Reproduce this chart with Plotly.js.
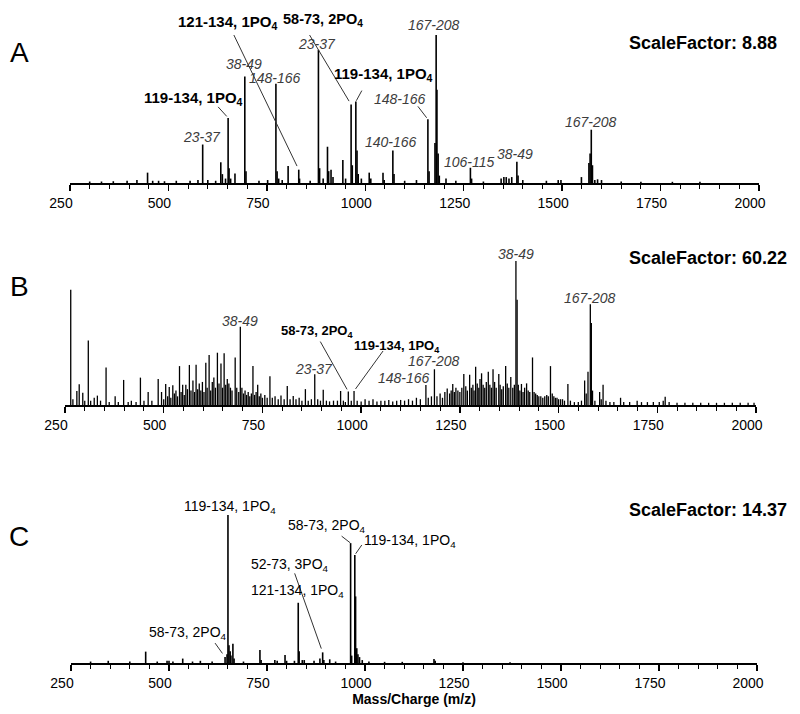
<!DOCTYPE html>
<html>
<head>
<meta charset="utf-8">
<script src="https://cdn.plot.ly/plotly-3.0.1.min.js"></script>
<style>body{margin:0;background:#fff}</style>
</head>
<body>
<div id="graph" style="width:800px;height:714px"></div>
<script>
// peak lists (m/z, relative intensity, tallest = 100)
var mzA = [300, 330, 360, 395, 420, 447, 460, 475, 490, 520, 555, 575, 587, 600, 620, 633, 637, 645, 651.6, 654, 658, 669,
  694, 697, 730, 752, 773, 776, 780, 789, 804, 831, 833, 860, 881, 884, 893, 904, 907, 913, 918, 943, 950, 964, 967,
  976, 979, 982, 990, 1010, 1014, 1045, 1048, 1070, 1073, 1100, 1130, 1159, 1162, 1177, 1180, 1182, 1185, 1188, 1205,
  1230, 1267, 1270, 1300, 1345, 1352, 1358, 1365, 1372, 1385, 1388, 1400, 1460, 1490, 1497, 1549, 1568, 1571, 1574,
  1577, 1583, 1590, 1600, 1650, 1700, 1780, 1850];
var intA = [1, 1, 1.2, 1.5, 2, 7, 1.5, 1.5, 1.2, 1.5, 1.5, 2, 26, 2, 1.5, 14, 6, 3, 44, 10, 3, 6.5,
  72, 8, 1.5, 2, 67, 8, 3, 2, 11.5, 9, 3, 1.5, 90, 10, 3, 24.5, 8, 9, 4, 15.5, 3, 53, 12,
  55, 22, 6, 3, 7, 3, 7, 2, 22, 6, 1.5, 2, 43, 8, 27, 100, 63, 20, 5, 3,
  1.5, 10.3, 3, 1, 3, 4, 4, 3, 4, 14.4, 5, 2, 1.5, 2, 2, 4, 13.5, 20, 36,
  12, 2, 2.5, 2, 1, 0.8, 0.8, 0.8];

var mzB = [264.5, 270, 280, 286, 295, 300, 309, 315, 324, 332, 340, 354, 362, 377, 385, 398.5, 410, 418, 430, 441, 450,
  460.6, 470, 486, 494.5, 500, 505, 510, 514, 518, 523, 527, 531, 535, 540, 544, 548, 552, 556, 560, 565, 569, 574,
  578, 582, 586, 590, 594, 598, 602, 606.6, 610, 615, 619, 623, 627, 631, 636, 640, 645, 649, 653, 657, 661, 665,
  669, 673, 681, 685, 690, 694, 698, 702, 706, 710, 714, 718, 722, 726, 730, 734, 738, 742, 746, 750, 756, 762,
  769, 775, 782, 790, 797, 805, 812.9, 820, 828, 835, 843, 850, 858.8, 866, 874, 882.5, 890, 897, 904, 912, 920,
  930, 940, 948, 955, 960, 967.5, 975, 982, 990, 1000, 1010, 1020, 1030, 1040, 1050, 1060, 1070, 1080, 1090, 1100,
  1110, 1120, 1130, 1140, 1150, 1164, 1170, 1178, 1185.6, 1192, 1200, 1206, 1212, 1218, 1224, 1228, 1232, 1236,
  1240, 1245, 1250, 1255, 1260, 1265, 1269, 1274.8, 1279, 1283, 1286, 1290, 1294, 1298, 1301, 1305, 1309, 1313,
  1317, 1322, 1326, 1330, 1334, 1338, 1342, 1348.6, 1352, 1356, 1360, 1366, 1370, 1374, 1379, 1384, 1388, 1392,
  1395, 1398, 1402, 1406, 1410, 1414, 1419, 1423, 1427, 1434, 1438, 1442, 1446, 1450, 1455, 1460, 1465, 1470,
  1474, 1479.5, 1484, 1488, 1492, 1496, 1500, 1505, 1510, 1515, 1523.6, 1530, 1540, 1550, 1558, 1566, 1570,
  1574.5, 1580.4, 1583, 1586, 1592, 1604, 1608, 1612.7, 1620, 1630, 1640, 1657, 1665, 1680, 1699, 1710, 1725,
  1740, 1755, 1765, 1770, 1780, 1800, 1820, 1840, 1860, 1880, 1900, 1920, 1940, 1960, 1980, 1995];
var intB = [80, 4, 9.7, 14.4, 8.5, 3, 44.7, 3, 5, 6.5, 3, 26, 2, 6, 2, 17.4, 2, 3, 2, 19, 3,
  9, 3, 18, 9, 4, 14.6, 6, 12.5, 5, 13.7, 8, 10, 6, 27, 9, 14, 7, 14, 11, 27.8, 10, 17,
  9, 28, 11, 15, 10, 16, 9, 29.4, 12, 34.7, 10, 16, 19, 12, 36.3, 15, 28.8, 12, 36, 14, 18, 15,
  12, 10, 33, 12, 9, 54.4, 12, 8, 10, 7, 9, 6, 8, 27, 7, 9, 14, 6, 8, 5, 7, 5,
  20, 5, 6, 4, 6.5, 4, 13.2, 4, 6.3, 4, 5, 3, 11, 3, 4, 21.3, 4, 3, 10.6, 3, 2.5,
  3, 3, 9.7, 3, 2, 9.3, 3, 9.7, 3, 2.5, 4, 3, 4, 2.5, 3, 3, 3.5, 2.5, 3, 3.5,
  3, 4, 3, 5, 4, 13.9, 5, 6, 24.8, 6, 8, 5, 9, 11.5, 8, 10, 14.6, 9,
  12, 10, 9, 12, 21.5, 13, 10, 21, 12, 14, 10, 26.6, 15, 12, 18, 22, 14, 12,
  16, 23, 14, 12, 24.8, 16, 12, 21.5, 14, 11, 13, 27, 15, 12, 19.5, 12, 14, 100,
  73, 14, 10, 14.6, 9, 12, 15, 10, 9, 33, 9, 8, 7, 6, 6, 5, 6, 7,
  6, 27, 8, 6, 5, 5, 4, 4, 4, 3, 14.6, 3, 2, 2, 3, 17, 8,
  23, 70, 57, 10, 3, 9, 4, 14, 3, 2, 2, 5, 2, 2, 3, 2, 2,
  2, 2, 3, 5.8, 2, 1.5, 1.5, 1.5, 1.5, 1.5, 1.5, 1.5, 1.5, 1.5, 1.5, 1.5];

var mzC = [300, 345, 400, 440.5, 470, 495, 500, 510, 535, 560, 580, 610, 643, 648, 650.4, 653, 656, 658, 663, 666, 690,
  732, 735, 770, 776, 796, 800, 820, 829.7, 832, 840, 845, 870, 885, 892, 895, 910, 925, 963.3, 966, 974, 976, 979,
  982, 986, 993, 1010, 1050, 1095, 1176, 1179, 1250, 1370];
var intC = [1, 1.5, 1, 7.7, 1, 1.5, 1.5, 1, 3, 1, 1.5, 1, 4, 6, 100, 12, 8, 5, 13, 3, 1,
  8.8, 2, 2, 1.5, 5.4, 1.5, 1.5, 40.7, 8, 2, 2, 1.5, 3, 7.2, 2, 2.5, 1, 81, 5, 73, 45, 10,
  6, 4, 2, 1, 0.8, 0.8, 2.7, 1.5, 0.6, 0.6];

var tickVals = [250, 500, 750, 1000, 1250, 1500, 1750, 2000];
var panelNames = ['A', 'B', 'C'];
var scaleFactors = ['8.88', '60.22', '14.37'];

var font = 'Arial, "Liberation Sans", sans-serif';

function sticks(mz, inten, xa, ya, w) {
  var x = [], y = [];
  for (var i = 0; i < mz.length; i++) {
    x.push(mz[i], mz[i], null);
    y.push(0, inten[i], null);
  }
  return {x: x, y: y, xaxis: xa, yaxis: ya, type: 'scatter', mode: 'lines',
    line: {color: '#000', width: w}, hoverinfo: 'skip', showlegend: false};
}

function heightAt(mz, inten, m) {
  var best = 0;
  for (var i = 0; i < mz.length; i++) {
    if (Math.abs(mz[i] - m) < Math.abs(mz[best] - m)) best = i;
  }
  return inten[best];
}

var data = [
  sticks(mzA, intA, 'x', 'y', 1.6),
  sticks(mzB, intB, 'x2', 'y2', 1.3),
  sticks(mzC, intC, 'x3', 'y3', 1.6)
];

function xAxis(domain, anchor) {
  return {domain: domain, anchor: anchor, range: [250, 2000], tickmode: 'array', tickvals: tickVals,
    ticks: 'outside', ticklen: 6, tickwidth: 1.5, tickcolor: '#000',
    showline: true, linewidth: 2, linecolor: '#000', showgrid: false, zeroline: false,
    ticklabelshift: -9, tickfont: {family: font, size: 14, color: '#000'},
    minor: {dtick: 50, tick0: 250, ticks: 'outside', ticklen: 4, tickwidth: 1, tickcolor: '#000', showgrid: false},
    fixedrange: true};
}
function yAxis(domain, anchor) {
  return {domain: domain, anchor: anchor, range: [0, 100], visible: false, fixedrange: true};
}

var annotations = [];
var shapes = [];

// label text placed relative to the top of a peak (dx, dy in pixels, dy up)
function label(xa, ya, mz, inten, m, text, dx, dy, style, size) {
  var f = {family: font, size: size || 14, color: '#000'};
  if (style == 'b') text = '<b>' + text + '</b>';
  if (style == 'i') { text = '<i>' + text + '</i>'; f.color = '#3c3c3c'; }
  annotations.push({x: m, y: heightAt(mz, inten, m), xref: xa, yref: ya, text: text, showarrow: false,
    xanchor: 'center', yanchor: 'middle', xshift: dx, yshift: dy, font: f});
}
// leader line from a point (ax, ay) pixels away (ay down) to just above the top of a peak
function leader(xa, ya, mz, inten, m, ax, ay, gap) {
  var len = Math.sqrt(ax * ax + ay * ay);
  shapes.push({type: 'line', xref: xa, yref: ya, xsizemode: 'pixel', ysizemode: 'pixel',
    xanchor: m, yanchor: heightAt(mz, inten, m),
    x0: ax, y0: -ay, x1: ax * gap / len, y1: -ay * gap / len,
    line: {color: '#333', width: 1}});
}

var PO = ', 1PO<sub>4</sub>';

// panel A
label('x', 'y', mzA, intA, 831, '121-134' + PO, -71, 147, 'b', 15);
leader('x', 'y', mzA, intA, 831, -66, -137, 4);
label('x', 'y', mzA, intA, 964, '58-73, 2PO<sub>4</sub>', -28, 85, 'b', 14.5);
leader('x', 'y', mzA, intA, 964, -46, -77, 4);
label('x', 'y', mzA, intA, 976, '119-134' + PO, 28, 27, 'b', 15);
leader('x', 'y', mzA, intA, 976, 6, -11, 1);
label('x', 'y', mzA, intA, 651.6, '119-134' + PO, -35, 19, 'b', 15);
leader('x', 'y', mzA, intA, 651.6, -10, -11, 2);
label('x', 'y', mzA, intA, 1159, '148-166', -28, 20, 'i');
leader('x', 'y', mzA, intA, 1159, -10, -13, 2);
label('x', 'y', mzA, intA, 587, '23-37', -1, 8, 'i');
label('x', 'y', mzA, intA, 694, '38-49', -1, 12, 'i');
label('x', 'y', mzA, intA, 773, '148-166', -1, 6, 'i');
label('x', 'y', mzA, intA, 881, '23-37', -1, 6, 'i');
label('x', 'y', mzA, intA, 1070, '140-166', -2, 8, 'i');
label('x', 'y', mzA, intA, 1180, '167-208', -2, 10, 'i');
label('x', 'y', mzA, intA, 1267, '106-115', -1, 6, 'i');
label('x', 'y', mzA, intA, 1385, '38-49', -2, 8, 'i');
label('x', 'y', mzA, intA, 1574, '167-208', 0, 8, 'i');

// panel B
label('x2', 'y2', mzB, intB, 967.5, '58-73, 2PO<sub>4</sub>', -31, 60, 'b', 13);
leader('x2', 'y2', mzB, intB, 967.5, -28, -50, 2.5);
label('x2', 'y2', mzB, intB, 982, '119-134' + PO, 43, 45, 'b', 13);
leader('x2', 'y2', mzB, intB, 982, 29, -40, 2.5);
label('x2', 'y2', mzB, intB, 694, '38-49', 0, 6, 'i');
label('x2', 'y2', mzB, intB, 882.5, '23-37', -1, 5, 'i');
label('x2', 'y2', mzB, intB, 1164, '148-166', -22, 7, 'i');
label('x2', 'y2', mzB, intB, 1185.6, '167-208', 0, 8, 'i');
label('x2', 'y2', mzB, intB, 1392, '38-49', 0, 7, 'i');
label('x2', 'y2', mzB, intB, 1580.4, '167-208', 0, 6.5, 'i');

// panel C
label('x3', 'y3', mzC, intC, 650.4, '119-134' + PO, 2, 8, '');
label('x3', 'y3', mzC, intC, 829.7, '121-134' + PO, -1, 12, '');
label('x3', 'y3', mzC, intC, 963.3, '58-73, 2PO<sub>4</sub>', -24, 17, '');
leader('x3', 'y3', mzC, intC, 963.3, -9, -7, 0.5);
label('x3', 'y3', mzC, intC, 974, '119-134' + PO, 55, 14, '');
leader('x3', 'y3', mzC, intC, 974, 7, -10, 1.5);
label('x3', 'y3', mzC, intC, 892, '52-73, 3PO<sub>4</sub>', -33, 87, '');
leader('x3', 'y3', mzC, intC, 892, -28, -79, 4);
label('x3', 'y3', mzC, intC, 643, '58-73, 2PO<sub>4</sub>', -37, 24, '');
leader('x3', 'y3', mzC, intC, 643, -10, -14, 4.5);

// panel letters and scale factors
var letterY = [0.926, 0.599, 0.248];
var scaleY = [0.94, 0.639, 0.286];
for (var p = 0; p < 3; p++) {
  annotations.push({x: 0.024, y: letterY[p], xref: 'paper', yref: 'paper', text: panelNames[p], showarrow: false,
    xanchor: 'center', yanchor: 'middle', font: {family: font, size: 28, color: '#000'}});
  annotations.push({x: 0.784, y: scaleY[p], xref: 'paper', yref: 'paper', text: '<b>ScaleFactor: ' + scaleFactors[p] + '</b>',
    showarrow: false, xanchor: 'left', yanchor: 'middle', font: {family: font, size: 18, color: '#000'}});
}

var layout = {
  width: 800,
  height: 714,
  margin: {l: 0, r: 0, t: 0, b: 0},
  paper_bgcolor: '#fff',
  plot_bgcolor: '#fff',
  showlegend: false,
  font: {family: font, color: '#000'},
  xaxis: xAxis([0.0875, 0.94875], 'y'),
  yaxis: yAxis([0.7437, 0.951], 'x'),
  xaxis2: xAxis([0.08125, 0.945], 'y2'),
  yaxis2: yAxis([0.4328, 0.6345], 'x2'),
  xaxis3: xAxis([0.08875, 0.94625], 'y3'),
  yaxis3: yAxis([0.0714, 0.2787], 'x3'),
  annotations: annotations,
  shapes: shapes
};
layout.xaxis3.title = {text: '<b>Mass/Charge (m/z)</b>', font: {family: font, size: 14, color: '#000'}, standoff: 4};

Plotly.newPlot('graph', data, layout, {displayModeBar: false, staticPlot: true});
</script>
</body>
</html>
